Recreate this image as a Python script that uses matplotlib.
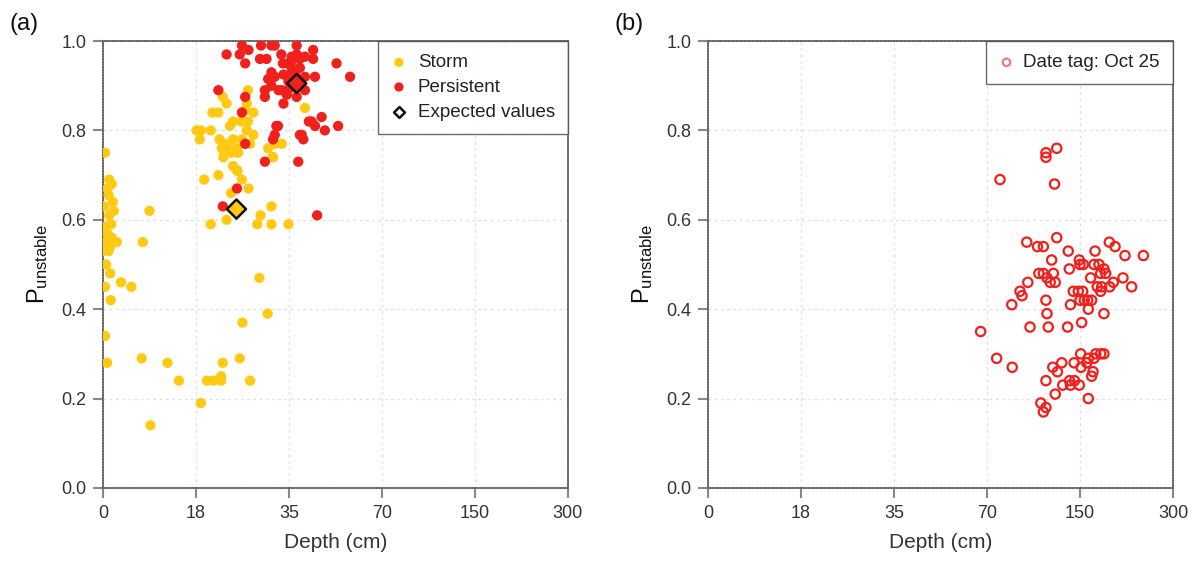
import numpy as np
import matplotlib
matplotlib.use("Agg")
import matplotlib.pyplot as plt

plt.rcParams['font.family'] = ['Liberation Sans', 'DejaVu Sans']
plt.rcParams['mathtext.default'] = 'regular'

# depth ticks are equally spaced on the axis
depth_ticks = [0, 18, 35, 70, 150, 300]
p_ticks = [0.0, 0.2, 0.4, 0.6, 0.8, 1.0]

# panel (a): storm layers (depth cm, P unstable)
storm_depth = [0.4, 1.2, 1.7, 0.9, 1.1, 1.9, 2.1, 1.2, 1.6, 0.8, 1.7, 2.7, 0.4, 1.4, 1.1,
               0.6, 1.4, 3.5, 5.5, 0.4, 1.5, 0.4, 0.8, 0.2, 0.6, 0.0,
               9.0, 7.7, 7.5, 12.5, 14.7, 20.0, 21.2, 22.6, 22.6, 22.9, 26.0, 27.9, 26.5,
               31.1, 29.6, 18.9, 9.2, 20.7, 23.6, 29.2, 31.8, 31.8, 29.8, 34.9, 24.4, 27.6,
               26.4, 19.5, 22.1, 25.5, 24.8, 32.0, 31.2, 23.0, 27.5, 22.9, 23.6, 27.3, 27.0,
               21.0, 22.1, 28.5, 24.8, 24.2, 26.3, 27.5, 18.1, 18.9, 20.7, 27.3, 18.7, 22.3,
               24.8, 26.4, 28.5, 23.3, 22.7, 23.9, 25.5, 24.5, 25.7, 27.9, 32.4, 33.7, 32.1,
               24.8, 25.6, 41.0]
storm_p = [0.75, 0.69, 0.68, 0.67, 0.655, 0.64, 0.62, 0.61, 0.59, 0.57, 0.56, 0.55, 0.55, 0.54, 0.53,
           0.50, 0.48, 0.46, 0.45, 0.45, 0.42, 0.34, 0.28, 0.63, 0.585, 0.53,
           0.62, 0.55, 0.29, 0.28, 0.24, 0.24, 0.24, 0.25, 0.24, 0.28, 0.29, 0.24, 0.37,
           0.39, 0.47, 0.19, 0.14, 0.59, 0.60, 0.59, 0.59, 0.63, 0.61, 0.59, 0.66, 0.67,
           0.69, 0.69, 0.70, 0.71, 0.72, 0.74, 0.76, 0.74, 0.89, 0.875, 0.86, 0.86, 0.845,
           0.84, 0.84, 0.84, 0.82, 0.81, 0.82, 0.82, 0.80, 0.80, 0.80, 0.80, 0.78, 0.78,
           0.78, 0.78, 0.79, 0.77, 0.76, 0.76, 0.76, 0.75, 0.75, 0.77, 0.77, 0.77, 0.74,
           0.72, 0.71, 0.85]

# panel (a): persistent layers
pers_depth = [22.1, 27.0, 26.4, 30.6, 30.6, 33.1, 34.0, 37.9, 32.7, 32.4, 32.1, 30.6, 27.0,
              25.5, 22.9, 39.1, 38.5, 23.6, 26.0, 26.4, 27.6, 29.9, 31.8, 32.4, 37.9, 44.1,
              27.0, 29.7, 30.9, 33.6, 33.9, 36.0, 37.9, 39.1, 41.0, 44.1, 52.9, 36.0, 39.1,
              37.3, 31.8, 31.2, 32.4, 31.8, 34.9, 41.0, 44.8, 58.0, 33.7, 34.6, 41.0, 43.5,
              47.3, 44.8, 48.5, 53.5, 33.0, 39.8, 40.4, 45.6, 42.5, 34.8, 36.1, 35.4, 38.2,
              34.0, 36.9]
pers_p = [0.89, 0.875, 0.84, 0.875, 0.89, 0.89, 0.86, 0.875, 0.81, 0.79, 0.78, 0.73, 0.77,
          0.67, 0.63, 0.79, 0.73, 0.97, 0.97, 0.99, 0.98, 0.99, 0.99, 0.99, 0.99, 0.98,
          0.95, 0.96, 0.96, 0.97, 0.95, 0.965, 0.97, 0.96, 0.965, 0.96, 0.95, 0.94, 0.94,
          0.925, 0.93, 0.915, 0.92, 0.90, 0.91, 0.92, 0.92, 0.92, 0.89, 0.88, 0.89, 0.82,
          0.83, 0.81, 0.80, 0.81, 0.81, 0.79, 0.78, 0.61, 0.82, 0.95, 0.93, 0.895, 0.91,
          0.925, 0.96]

# expected values (storm, persistent)
exp_depth = [25.4, 37.9]
exp_p = [0.624, 0.905]

# panel (b): date tag Oct 25
oct_depth = [130.0, 120.7, 120.7, 81.2, 128.1, 130.0, 104.2, 113.4, 118.5, 197.3, 206.5, 139.9,
             125.6, 174.3, 222.6, 252.2, 149.4, 150.0, 155.3, 140.8, 172.6, 180.6, 188.7, 114.6,
             118.5, 127.1, 167.2, 183.3, 191.4, 219.3, 121.6, 124.4, 128.7, 105.1, 177.9, 185.0,
             197.9, 203.7, 233.3, 183.3, 98.4, 100.1, 144.2, 148.5, 154.3, 150.0, 156.9, 162.4,
             168.8, 141.8, 120.7, 91.3, 163.4, 188.6, 121.6, 152.7, 107.0, 122.7, 139.3, 67.6,
             78.3, 91.7, 151.1, 175.4, 183.3, 188.6, 163.4, 172.6, 134.3, 144.9, 160.8, 126.6,
             151.6, 130.6, 171.0, 168.8, 120.7, 141.0, 145.3, 135.2, 141.8, 149.4, 128.7, 163.4,
             116.3, 120.7, 118.5]
oct_p = [0.76, 0.75, 0.74, 0.69, 0.68, 0.56, 0.55, 0.54, 0.54, 0.55, 0.54, 0.53,
         0.51, 0.53, 0.52, 0.52, 0.51, 0.50, 0.50, 0.49, 0.50, 0.50, 0.49, 0.48,
         0.48, 0.48, 0.47, 0.48, 0.48, 0.47, 0.47, 0.46, 0.46, 0.46, 0.45, 0.45,
         0.45, 0.46, 0.45, 0.44, 0.44, 0.43, 0.44, 0.44, 0.44, 0.42, 0.42, 0.42,
         0.42, 0.41, 0.42, 0.41, 0.40, 0.39, 0.39, 0.37, 0.36, 0.36, 0.36, 0.35,
         0.29, 0.27, 0.30, 0.30, 0.30, 0.30, 0.29, 0.29, 0.28, 0.28, 0.28, 0.27,
         0.27, 0.26, 0.26, 0.25, 0.24, 0.24, 0.24, 0.23, 0.23, 0.23, 0.21, 0.20,
         0.19, 0.18, 0.17]

YELLOW = '#FFC914'
RED = '#F0201C'


def fwd(x):
    return np.interp(x, depth_ticks, np.arange(len(depth_ticks)))


def inv(x):
    return np.interp(x, np.arange(len(depth_ticks)), depth_ticks)


def style_axes(ax):
    ax.set_xscale('function', functions=(fwd, inv))
    ax.set_xlim(0, 300)
    ax.set_ylim(0, 1)
    ax.set_xticks(depth_ticks)
    ax.set_xticklabels([str(t) for t in depth_ticks])
    ax.set_yticks(p_ticks)
    ax.set_yticklabels(['%.1f' % t for t in p_ticks])
    ax.minorticks_off()
    ax.grid(True, linestyle=(0, (2, 3)), color='#dddddd', linewidth=0.9)
    ax.set_axisbelow(True)
    for sp in ax.spines.values():
        sp.set_linestyle((0, (1, 0.6)))
        sp.set_color('#666666')
        sp.set_linewidth(1.2)
    ax.tick_params(direction='out', length=7, width=1.5, color='#888888',
                   labelsize=13, labelcolor='#333333', pad=5)
    ax.set_xlabel('Depth (cm)', fontsize=15, color='#333333', labelpad=8)
    ax.set_ylabel('P$_{unstable}$', fontsize=17, color='#111111', labelpad=8)


def style_legend(leg):
    fr = leg.get_frame()
    fr.set_edgecolor('#444444')
    fr.set_linewidth(1.0)
    for t in leg.get_texts():
        t.set_color('#222222')


fig = plt.figure(figsize=(12, 5.7), dpi=100)
ax1 = fig.add_axes([0.0858, 0.144, 0.3875, 0.784])
ax2 = fig.add_axes([0.59, 0.144, 0.3875, 0.784])

style_axes(ax1)
ax1.scatter(storm_depth, storm_p, s=55, color=YELLOW, edgecolors='none', label='Storm', zorder=3)
ax1.scatter(pers_depth, pers_p, s=55, color=RED, edgecolors='none', label='Persistent', zorder=3)
ax1.scatter(exp_depth, exp_p, s=95, marker='D', c=[YELLOW, RED], edgecolors='#111111',
            linewidths=1.8, zorder=4)
# legend entry for the expected values
ax1.scatter([], [], s=38, marker='D', facecolor='white', edgecolors='#111111',
            linewidths=1.8, label='Expected values')
leg1 = ax1.legend(loc='upper right', fontsize=13.5, frameon=True, fancybox=False,
                  handlelength=0.8, handletextpad=0.6, borderpad=0.7, labelspacing=0.4,
                  markerscale=0.9, borderaxespad=0)
style_legend(leg1)

style_axes(ax2)
ax2.scatter(oct_depth, oct_p, s=45, facecolors='none', edgecolors=RED, linewidths=1.6,
            label='Date tag: Oct 25', zorder=3)
leg2 = ax2.legend(loc='upper right', fontsize=13.5, frameon=True, fancybox=False,
                  handlelength=0.8, handletextpad=0.5, borderpad=0.7, markerscale=0.8,
                  borderaxespad=0)
style_legend(leg2)
for h in leg2.legend_handles:
    h.set_alpha(0.6)

fig.text(0.008, 0.958, '(a)', fontsize=17, color='#111111', va='center')
fig.text(0.512, 0.958, '(b)', fontsize=17, color='#111111', va='center')

fig.savefig('out.png', dpi=100)
